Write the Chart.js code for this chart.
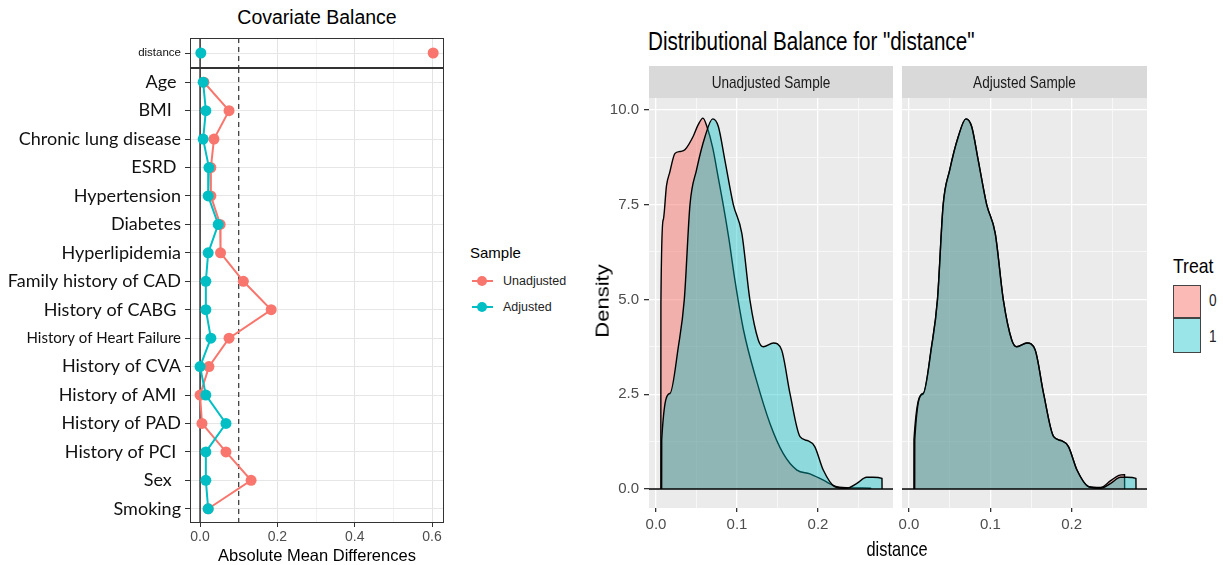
<!DOCTYPE html>
<html>
<head>
<meta charset="utf-8">
<script src="https://cdn.jsdelivr.net/npm/chart.js@4.4.1/dist/chart.umd.min.js"></script>
<style>
body{margin:0;background:#fff;width:1223px;height:565px;position:relative;overflow:hidden;font-family:"Liberation Sans",Arial,sans-serif}
canvas{position:absolute}
.t{position:absolute;white-space:nowrap;line-height:1}
.sq{transform-origin:0 0;transform:scaleX(0.8)}
</style>
</head>
<body>
<div class="t" style="left:190px;width:254px;top:8px;text-align:center;font-size:19.5px">Covariate Balance</div>
<canvas id="cTop" width="450" height="30" style="left:0;top:38px"></canvas>
<canvas id="cMain" width="450" height="497" style="left:0;top:68px"></canvas>
<div class="t" style="left:190px;width:254px;top:547px;text-align:center;font-size:16.5px">Absolute Mean Differences</div>

<div class="t" style="left:470px;top:245px;font-size:15px">Sample</div>
<div class="t" style="left:472px;top:280px;width:21px;height:2px;background:#F8766D"></div>
<div class="t" style="left:477px;top:276px;width:10px;height:10px;border-radius:50%;background:#F8766D"></div>
<div class="t" style="left:503px;top:275px;font-size:12.5px;color:#222">Unadjusted</div>
<div class="t" style="left:472px;top:306px;width:21px;height:2px;background:#00BFC4"></div>
<div class="t" style="left:477px;top:302px;width:10px;height:10px;border-radius:50%;background:#00BFC4"></div>
<div class="t" style="left:503px;top:301px;font-size:12.5px;color:#222">Adjusted</div>

<div class="t sq" style="left:648px;top:29px;font-size:25px;transform:scaleX(0.825)">Distributional Balance for "distance"</div>
<canvas id="cL" width="310" height="480" style="left:590px;top:60px"></canvas>
<canvas id="cR" width="256" height="480" style="left:898px;top:60px"></canvas>
<div class="t" style="left:553px;top:290px;width:100px;text-align:center;font-size:22px;transform-origin:50% 50%;transform:rotate(-90deg) scaleY(0.8)">Density</div>
<div class="t" style="left:847px;top:538px;width:100px;text-align:center;font-size:21px;transform-origin:50% 0;transform:scaleX(0.78)">distance</div>

<div class="t sq" style="left:1173px;top:255px;font-size:21px;transform:scaleX(0.84)">Treat</div>
<div class="t" style="left:1173px;top:285px;width:26px;height:31px;border:1px solid #444;background:rgba(248,118,109,0.5)"></div>
<div class="t" style="left:1173px;top:318px;width:26px;height:33px;border:1px solid #444;background:rgba(0,191,196,0.4)"></div>
<div class="t sq" style="left:1209px;top:292px;font-size:17px;color:#222">0</div>
<div class="t sq" style="left:1209px;top:328px;font-size:17px;color:#222">1</div>

<script>
// covariate balance (absolute mean differences)
const covariates = ["Age ", "BMI  ", "Chronic lung disease", "ESRD ", "Hypertension", "Diabetes", "Hyperlipidemia",
  "Family history of CAD", "History of CABG ", "History of Heart Failure", "History of CVA", "History of AMI ",
  "History of PAD", "History of PCI ", "Sex  ", "Smoking"]
const unadjusted = [0.010, 0.075, 0.036, 0.028, 0.028, 0.052, 0.053, 0.112, 0.184, 0.075, 0.023, 0.000, 0.005, 0.067, 0.132, 0.021]
const adjusted = [0.008, 0.015, 0.008, 0.023, 0.021, 0.047, 0.021, 0.015, 0.015, 0.028, 0.000, 0.015, 0.067, 0.015, 0.015, 0.021]
const distanceLabel = ["distance"]
const distanceUnadj = [0.603]
const distanceAdj = [0.002]
const diffTicks = [0, 0.1, 0.2, 0.3, 0.4, 0.5, 0.6]
const diffLabels = [0, 0.2, 0.4, 0.6]

// densities of the propensity score ("distance")
const ctrlX = [0.006, 0.0061, 0.009, 0.013, 0.017, 0.0235, 0.030, 0.036, 0.046, 0.052, 0.058, 0.063, 0.070, 0.077, 0.083, 0.090,
  0.0975, 0.108, 0.124, 0.1407, 0.157, 0.174, 0.190, 0.206, 0.223, 0.240, 0.255, 0.265, 0.2651]
const ctrlY = [0, 4.9, 7.1, 8.0, 8.35, 8.85, 8.9, 8.95, 9.3, 9.6, 9.78, 9.55, 9.0, 8.2, 7.5, 6.6,
  5.5, 4.2, 2.87, 1.73, 0.94, 0.5, 0.4, 0.24, 0.06, 0.03, 0.03, 0.02, 0]
const treatX = [0.007, 0.0071, 0.0173, 0.0276, 0.035, 0.042, 0.050, 0.0605, 0.070, 0.077, 0.085, 0.0955, 0.106, 0.116,
  0.1263, 0.1325, 0.145, 0.155, 0.1654, 0.1778, 0.188, 0.196, 0.2065, 0.221, 0.2354, 0.248, 0.260, 0.268, 0.279, 0.2791]
const treatY = [0, 1.3, 2.52, 3.75, 5.0, 7.5, 8.41, 9.29, 9.76, 9.56, 8.68, 7.5, 6.74, 4.98,
  3.93, 3.75, 3.85, 3.67, 2.52, 1.38, 1.27, 1.12, 0.5, 0.06, 0.02, 0.15, 0.31, 0.31, 0.28, 0]
const adjCtrlX = [0.006, 0.0061, 0.0173, 0.0276, 0.035, 0.042, 0.050, 0.0605, 0.070, 0.077, 0.085, 0.0955, 0.106, 0.116,
  0.1263, 0.1325, 0.145, 0.155, 0.1654, 0.1778, 0.188, 0.196, 0.2065, 0.221, 0.2354, 0.248, 0.258, 0.265, 0.2651]
const adjCtrlY = [0, 1.3, 2.5, 3.72, 4.98, 7.48, 8.4, 9.28, 9.76, 9.56, 8.68, 7.5, 6.74, 4.98,
  3.93, 3.75, 3.85, 3.67, 2.52, 1.38, 1.27, 1.12, 0.5, 0.06, 0.04, 0.22, 0.36, 0.38, 0]
const densityTicks = [0, 1.25, 2.5, 3.75, 5, 6.25, 7.5, 8.75, 10]
const densityLabels = [0, 2.5, 5, 7.5, 10]
const distTicks = [0, 0.05, 0.1, 0.15, 0.2, 0.25]
const distLabels = [0, 0.1, 0.2]

const red = "#F8766D", teal = "#00BFC4"
const isIn = (list, v) => list.some(l => Math.abs(l - v) < 1e-9)
const noPad = s => { s.paddingTop = 0; s.paddingBottom = 0; s.paddingLeft = 0; s.paddingRight = 0 }

// panel border + reference lines for the balance plot
const balanceLines = {
  id: "balanceLines",
  beforeDatasetsDraw(chart) {
    const {ctx, chartArea: a, scales: {x}} = chart
    ctx.save()
    ctx.strokeStyle = "#000"
    ctx.lineWidth = 1.2
    ctx.beginPath()
    ctx.moveTo(x.getPixelForValue(0), a.top)
    ctx.lineTo(x.getPixelForValue(0), a.bottom)
    ctx.stroke()
    ctx.strokeStyle = "#333"
    ctx.setLineDash([5, 4])
    ctx.beginPath()
    ctx.moveTo(x.getPixelForValue(0.1), a.top)
    ctx.lineTo(x.getPixelForValue(0.1), a.bottom)
    ctx.stroke()
    ctx.restore()
  },
  afterDraw(chart) {
    const {ctx, chartArea: a} = chart
    ctx.save()
    ctx.strokeStyle = "#333"
    ctx.lineWidth = 1
    ctx.strokeRect(a.left + 0.5, a.top + 0.5, a.right - a.left - 1, a.bottom - a.top - 1)
    ctx.restore()
  }
}

const balanceX = (showLabels) => ({
  type: "linear", min: -0.026, max: 0.631,
  afterBuildTicks: s => { s.ticks = diffTicks.map(v => ({value: v})) },
  afterFit: s => { s.height = showLabels ? 42 : 0; noPad(s) },
  border: {display: false},
  grid: {
    color: c => isIn(diffLabels, c.tick.value) ? "#E3E3E3" : "#F2F2F2",
    lineWidth: 1,
    drawTicks: showLabels, tickLength: 4,
    tickColor: c => isIn(diffLabels, c.tick.value) ? "#333" : "rgba(0,0,0,0)"
  },
  ticks: {
    display: showLabels, padding: 2, color: "#4D4D4D", font: {size: 14, family: "Liberation Sans"},
    callback: v => isIn(diffLabels, v) ? v.toFixed(1) : ""
  }
})

const balanceY = (fontFor) => ({
  type: "category", offset: true,
  afterFit: s => { s.width = 188; noPad(s) },
  border: {display: false},
  grid: {offset: false, color: "#E6E6E6", lineWidth: 1, tickLength: 5, tickColor: "#333"},
  ticks: {padding: 4, color: "#111", autoSkip: false, font: fontFor}
})

const pointSet = (label, data, color) => ({
  label: label, data: data, borderColor: color, backgroundColor: color,
  borderWidth: 2, pointRadius: 5.5, pointHoverRadius: 5.5, pointBorderWidth: 0, clip: false
})

const common = {
  responsive: false, animation: false, devicePixelRatio: 1,
  plugins: {legend: {display: false}, tooltip: {enabled: false}}
}

new Chart(document.getElementById("cTop"), {
  type: "line",
  data: {labels: distanceLabel, datasets: [pointSet("Adjusted", distanceAdj, teal), pointSet("Unadjusted", distanceUnadj, red)]},
  options: {...common, indexAxis: "y", layout: {autoPadding: false, padding: {left: 2, right: 6, top: 0, bottom: 0}},
    scales: {x: balanceX(false), y: balanceY({size: 11.5, family: "Liberation Sans"})}},
  plugins: [balanceLines]
})

new Chart(document.getElementById("cMain"), {
  type: "line",
  data: {labels: covariates, datasets: [pointSet("Adjusted", adjusted, teal), pointSet("Unadjusted", unadjusted, red)]},
  options: {...common, indexAxis: "y", layout: {autoPadding: false, padding: {left: 2, right: 6, top: 0, bottom: 0}},
    scales: {
      x: balanceX(true),
      y: balanceY(c => ({size: c.index === 9 ? 15 : 18, family: "Lato, 'Open Sans', sans-serif"}))
    }},
  plugins: [balanceLines]
})

// density panels
const curve = (xs, ys) => xs.map((x, i) => ({x: x, y: ys[i]}))
const xMin = -0.0086, xMax = 0.2926

const panelDeco = {
  id: "panelDeco",
  beforeDraw(chart) {
    const {ctx, chartArea: a} = chart
    ctx.save()
    ctx.fillStyle = "#EBEBEB"
    ctx.fillRect(a.left, a.top, a.right - a.left, a.bottom - a.top)
    ctx.fillStyle = "#D9D9D9"
    ctx.fillRect(a.left, a.top - 32, a.right - a.left, 32)
    ctx.fillStyle = "#1A1A1A"
    ctx.font = "17px 'Liberation Sans'"
    ctx.textAlign = "center"
    ctx.textBaseline = "middle"
    const cx = (a.left + a.right) / 2
    ctx.translate(cx, a.top - 15)
    ctx.scale(0.8, 1)
    ctx.fillText(chart.options.plugins.strip.text, 0, 0)
    ctx.restore()
  }
}

function densityChart(id, strip, c0x, c0y, showY, padLeft) {
  return new Chart(document.getElementById(id), {
    type: "line",
    data: {datasets: [
      {data: [{x: xMin, y: 0}, {x: xMax, y: 0}], borderColor: "#000", borderWidth: 1.6, pointRadius: 0, fill: false},
      {data: curve(treatX, treatY), borderColor: "#000", borderWidth: 1.4, pointRadius: 0,
        backgroundColor: "rgba(0,191,196,0.4)", fill: "origin", cubicInterpolationMode: "monotone"},
      {data: curve(c0x, c0y), borderColor: "#000", borderWidth: 1.4, pointRadius: 0,
        backgroundColor: "rgba(248,118,109,0.5)", fill: "origin", cubicInterpolationMode: "monotone"}
    ]},
    options: {...common,
      layout: {autoPadding: false, padding: {left: padLeft, right: 7, top: 38, bottom: 0}},
      plugins: {...common.plugins, strip: {text: strip}},
      scales: {
        x: {
          type: "linear", min: xMin, max: xMax,
          afterBuildTicks: s => { s.ticks = distTicks.map(v => ({value: v})) },
          afterFit: s => { s.height = 32; noPad(s) },
          border: {display: false},
          grid: {
            color: "#FFFFFF",
            lineWidth: c => isIn(distLabels, c.tick.value) ? 1.3 : 0.6,
            tickLength: 4,
            tickColor: c => isIn(distLabels, c.tick.value) ? "#333" : "rgba(0,0,0,0)"
          },
          ticks: {padding: 4, color: "#4D4D4D", font: {size: 15, family: "Liberation Sans"},
            callback: v => isIn(distLabels, v) ? v.toFixed(1) : ""}
        },
        y: {
          type: "linear", min: -0.5, max: 10.31,
          afterBuildTicks: s => { s.ticks = densityTicks.map(v => ({value: v})) },
          afterFit: s => { s.width = showY ? 59 : 0; noPad(s) },
          border: {display: false},
          grid: {
            color: "#FFFFFF",
            lineWidth: c => isIn(densityLabels, c.tick.value) ? 1.3 : 0.6,
            drawTicks: showY, tickLength: 5,
            tickColor: c => isIn(densityLabels, c.tick.value) ? "#333" : "rgba(0,0,0,0)"
          },
          ticks: {display: showY, padding: 5, color: "#4D4D4D", font: {size: 15, family: "Liberation Sans"},
            callback: v => isIn(densityLabels, v) ? v.toFixed(1) : ""}
        }
      }
    },
    plugins: [panelDeco]
  })
}

densityChart("cL", "Unadjusted Sample", ctrlX, ctrlY, true, 0)
densityChart("cR", "Adjusted Sample", adjCtrlX, adjCtrlY, false, 4)
</script>
</body>
</html>
